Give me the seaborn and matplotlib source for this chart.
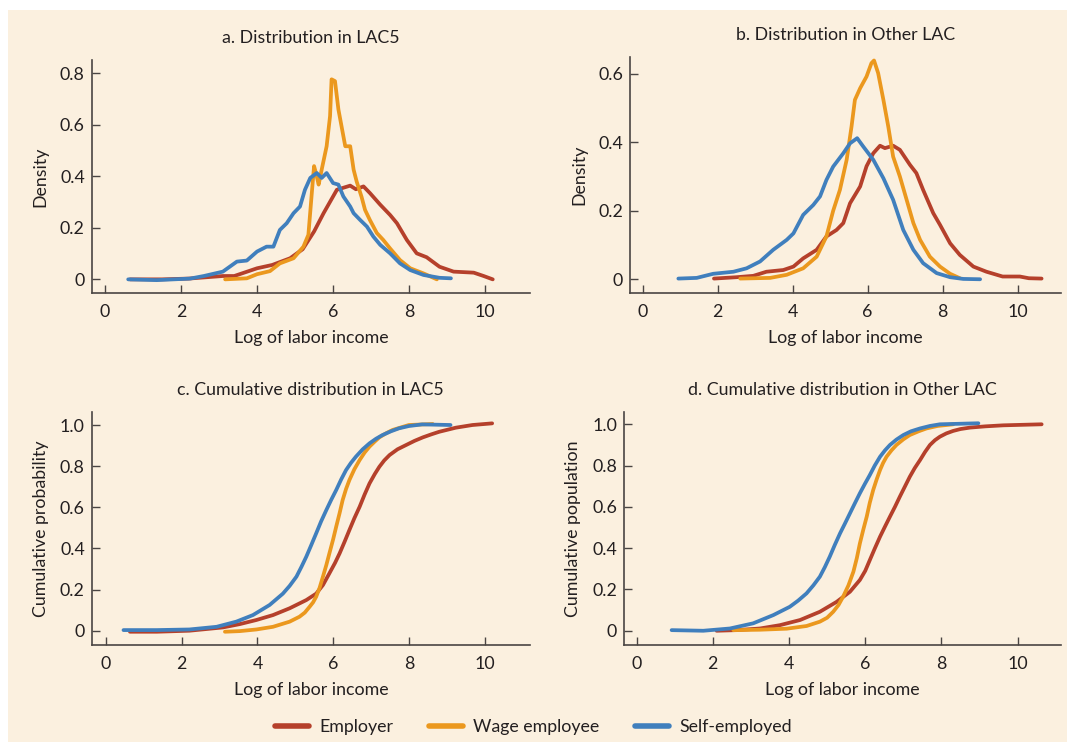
import numpy as np
import pandas as pd
import matplotlib
matplotlib.use("Agg")
import matplotlib.pyplot as plt
import seaborn as sns
from matplotlib.lines import Line2D
from matplotlib.patches import Rectangle

# ---------------- data ----------------
series_names = ["Employer", "Wage employee", "Self-employed"]
series_colors = ["#B5402B", "#EB981E", "#407FBD"]

titles = ["a. Distribution in LAC5", "b. Distribution in Other LAC",
          "c. Cumulative distribution in LAC5", "d. Cumulative distribution in Other LAC"]
ylabels = ["Density", "Density", "Cumulative probability", "Cumulative population"]
xlabel = "Log of labor income"
xticks = [0, 2, 4, 6, 8, 10]
yticks_a = [0, 0.2, 0.4, 0.6, 0.8]
yticks_b = [0, 0.2, 0.4, 0.6]
yticks_cd = [0, 0.2, 0.4, 0.6, 0.8, 1.0]
ytick_labels_a = ["0", "0.2", "0.4", "0.6", "0.8"]
ytick_labels_b = ["0", "0.2", "0.4", "0.6"]
ytick_labels_cd = ["0", "0.2", "0.4", "0.6", "0.8", "1.0"]

# Panel a: density, LAC5
a_emp_x = [0.66, 1.5, 2.2, 3.1, 3.4, 3.6, 4.0, 4.4, 4.87, 5.2, 5.5, 5.75, 6.1, 6.45, 6.6, 6.8,
           6.97, 7.24, 7.5, 7.68, 7.94, 8.2, 8.46, 8.8, 9.17, 9.7, 9.96, 10.2]
a_emp_y = [0.0, 0.0, 0.003, 0.013, 0.013, 0.023, 0.043, 0.056, 0.082, 0.117, 0.186, 0.257, 0.348,
           0.364, 0.35, 0.361, 0.335, 0.29, 0.25, 0.218, 0.153, 0.101, 0.086, 0.049, 0.03, 0.026,
           0.013, 0.0]
a_wage_x = [3.16, 3.73, 4.0, 4.34, 4.6, 4.96, 5.22, 5.35, 5.44, 5.5, 5.57, 5.62, 5.7, 5.83, 5.92,
            5.96, 6.05, 6.14, 6.32, 6.45, 6.54, 6.62, 6.75, 6.84, 6.97, 7.15, 7.32, 7.5, 7.76,
            8.03, 8.38, 8.73]
a_wage_y = [0.0, 0.004, 0.02, 0.032, 0.062, 0.082, 0.127, 0.173, 0.335, 0.44, 0.40, 0.368, 0.426,
            0.517, 0.634, 0.777, 0.77, 0.66, 0.517, 0.517, 0.426, 0.38, 0.32, 0.27, 0.23, 0.18,
            0.153, 0.12, 0.075, 0.043, 0.023, 0.0]
a_self_x = [0.61, 1.36, 2.24, 2.6, 3.1, 3.47, 3.73, 4.0, 4.25, 4.43, 4.6, 4.78, 4.96, 5.13, 5.26,
            5.4, 5.57, 5.7, 5.83, 6.0, 6.14, 6.27, 6.45, 6.54, 6.71, 6.89, 7.06, 7.24, 7.5, 7.76,
            8.03, 8.38, 8.8, 9.1]
a_self_y = [0.0, -0.003, 0.003, 0.013, 0.03, 0.069, 0.073, 0.108, 0.127, 0.127, 0.192, 0.218,
            0.257, 0.283, 0.348, 0.394, 0.413, 0.394, 0.413, 0.374, 0.368, 0.322, 0.283, 0.257,
            0.231, 0.205, 0.166, 0.134, 0.101, 0.062, 0.036, 0.017, 0.006, 0.004]

# Panel b: density, Other LAC
b_emp_x = [1.9, 2.5, 2.95, 3.3, 3.75, 4.02, 4.28, 4.64, 4.9, 5.17, 5.35, 5.53, 5.8, 5.97, 6.15,
           6.33, 6.46, 6.68, 6.86, 7.13, 7.3, 7.48, 7.75, 7.93, 8.2, 8.46, 8.82, 9.17, 9.6,
           10.06, 10.3, 10.64]
b_emp_y = [0.002, 0.006, 0.01, 0.022, 0.027, 0.037, 0.061, 0.086, 0.125, 0.144, 0.164, 0.222,
           0.271, 0.33, 0.368, 0.39, 0.383, 0.39, 0.378, 0.334, 0.31, 0.261, 0.193, 0.159, 0.105,
           0.071, 0.037, 0.022, 0.008, 0.008, 0.003, 0.002]
b_wage_x = [2.6, 3.4, 3.84, 4.28, 4.64, 4.9, 5.08, 5.26, 5.44, 5.57, 5.66, 5.8, 5.97, 6.1, 6.17,
            6.28, 6.42, 6.55, 6.68, 6.86, 7.04, 7.22, 7.4, 7.66, 7.93, 8.2, 8.46]
b_wage_y = [0.002, 0.004, 0.013, 0.032, 0.066, 0.125, 0.2, 0.261, 0.349, 0.446, 0.524, 0.558,
            0.592, 0.631, 0.639, 0.602, 0.524, 0.446, 0.358, 0.3, 0.232, 0.164, 0.115, 0.066,
            0.037, 0.016, 0.003]
b_self_x = [0.95, 1.44, 1.88, 2.42, 2.77, 3.13, 3.48, 3.84, 4.02, 4.28, 4.55, 4.73, 4.9, 5.08,
            5.35, 5.53, 5.72, 5.88, 6.15, 6.42, 6.68, 6.95, 7.22, 7.48, 7.84, 8.2, 8.55, 9.0]
b_self_y = [0.002, 0.004, 0.016, 0.022, 0.032, 0.052, 0.086, 0.115, 0.134, 0.188, 0.217, 0.242,
            0.29, 0.329, 0.368, 0.397, 0.412, 0.388, 0.349, 0.295, 0.232, 0.144, 0.086, 0.047,
            0.018, 0.006, 0.001, 0.0]

# Panel c: cumulative, LAC5
c_emp_x = [0.63, 1.34, 2.2, 3.09, 3.53, 3.97, 4.41, 4.85, 5.29, 5.55, 5.73, 5.9, 6.05, 6.17,
           6.3, 6.43, 6.56, 6.7, 6.83, 6.96, 7.1, 7.22, 7.35, 7.49, 7.7, 7.93, 8.15, 8.37,
           8.6, 8.8, 9.24, 9.68, 10.2]
c_emp_y = [-0.005, -0.005, 0.0, 0.016, 0.032, 0.052, 0.076, 0.109, 0.149, 0.18, 0.222, 0.279,
           0.33, 0.376, 0.432, 0.49, 0.547, 0.603, 0.662, 0.716, 0.762, 0.797, 0.828, 0.854,
           0.882, 0.903, 0.923, 0.94, 0.955, 0.967, 0.987, 1.0, 1.008]
c_wage_x = [3.14, 3.53, 3.97, 4.41, 4.85, 5.11, 5.25, 5.38, 5.47, 5.55, 5.64, 5.73, 5.82, 5.9,
            6.0, 6.08, 6.17, 6.25, 6.34, 6.43, 6.56, 6.7, 6.83, 6.96, 7.1, 7.22, 7.4, 7.57,
            8.0, 8.63]
c_wage_y = [-0.005, -0.002, 0.006, 0.019, 0.044, 0.068, 0.088, 0.117, 0.138, 0.165, 0.208,
            0.263, 0.32, 0.376, 0.445, 0.506, 0.572, 0.635, 0.689, 0.733, 0.785, 0.83, 0.866,
            0.895, 0.92, 0.94, 0.96, 0.976, 1.0, 1.005]
c_self_x = [0.46, 1.34, 2.2, 2.92, 3.44, 3.88, 4.32, 4.67, 4.85, 5.03, 5.16, 5.29, 5.42, 5.55,
            5.68, 5.82, 5.95, 6.08, 6.21, 6.34, 6.47, 6.6, 6.78, 6.96, 7.13, 7.3, 7.52, 7.74,
            8.0, 8.35, 9.1]
c_self_y = [0.003, 0.003, 0.006, 0.019, 0.044, 0.076, 0.125, 0.18, 0.218, 0.263, 0.31, 0.36,
            0.416, 0.473, 0.531, 0.587, 0.637, 0.684, 0.735, 0.781, 0.816, 0.846, 0.882, 0.911,
            0.933, 0.951, 0.969, 0.984, 0.995, 1.003, 1.0]

# Panel d: cumulative, Other LAC
d_emp_x = [2.1, 2.62, 3.24, 3.76, 4.29, 4.81, 5.25, 5.6, 5.86, 6.0, 6.12, 6.25, 6.39, 6.52,
           6.65, 6.78, 6.91, 7.04, 7.17, 7.3, 7.44, 7.57, 7.7, 7.83, 7.96, 8.13, 8.31, 8.5,
           8.75, 9.15, 9.62, 10.63]
d_emp_y = [0.0, 0.003, 0.011, 0.027, 0.052, 0.092, 0.14, 0.189, 0.246, 0.29, 0.342, 0.398,
           0.456, 0.505, 0.553, 0.6, 0.65, 0.698, 0.746, 0.788, 0.827, 0.866, 0.9, 0.923, 0.94,
           0.956, 0.968, 0.977, 0.984, 0.99, 0.995, 1.0]
d_wage_x = [2.54, 3.24, 3.94, 4.46, 4.81, 5.0, 5.16, 5.3, 5.42, 5.56, 5.69, 5.78, 5.86, 5.95,
            6.04, 6.12, 6.21, 6.3, 6.39, 6.47, 6.56, 6.69, 6.82, 7.0, 7.17, 7.4, 7.61, 7.9, 8.31]
d_wage_y = [0.003, 0.005, 0.01, 0.023, 0.044, 0.063, 0.092, 0.125, 0.165, 0.22, 0.286, 0.352,
            0.423, 0.49, 0.553, 0.62, 0.682, 0.733, 0.779, 0.813, 0.843, 0.874, 0.9, 0.927,
            0.948, 0.966, 0.98, 0.992, 1.0]
d_self_x = [0.92, 1.75, 2.45, 3.06, 3.59, 4.02, 4.24, 4.46, 4.64, 4.81, 4.94, 5.07, 5.2, 5.34,
            5.47, 5.6, 5.73, 5.86, 5.99, 6.12, 6.25, 6.39, 6.52, 6.65, 6.82, 7.0, 7.2, 7.44,
            7.7, 7.96, 8.97]
d_self_y = [0.003, 0.0, 0.011, 0.036, 0.076, 0.116, 0.146, 0.181, 0.22, 0.262, 0.308, 0.359,
            0.415, 0.472, 0.52, 0.569, 0.618, 0.666, 0.711, 0.754, 0.8, 0.843, 0.874, 0.9,
            0.926, 0.948, 0.966, 0.98, 0.992, 1.0, 1.005]

panels = [
    [(a_emp_x, a_emp_y), (a_wage_x, a_wage_y), (a_self_x, a_self_y)],
    [(b_emp_x, b_emp_y), (b_wage_x, b_wage_y), (b_self_x, b_self_y)],
    [(c_emp_x, c_emp_y), (c_wage_x, c_wage_y), (c_self_x, c_self_y)],
    [(d_emp_x, d_emp_y), (d_wage_x, d_wage_y), (d_self_x, d_self_y)],
]

# ---------------- styling ----------------
BG = "#FBF0DF"
TXT = "#231F20"
SPINE = "#4A4543"

sns.set_theme(style="ticks")
plt.rcParams["font.family"] = ["Lato", "DejaVu Sans"]
plt.rcParams["text.color"] = TXT
plt.rcParams["axes.labelcolor"] = TXT
plt.rcParams["xtick.color"] = SPINE
plt.rcParams["ytick.color"] = SPINE
plt.rcParams["xtick.labelcolor"] = TXT
plt.rcParams["ytick.labelcolor"] = TXT

FS = 12.8

fig = plt.figure(figsize=(10.67, 7.42), dpi=100, facecolor="white")
W, H = 1067.0, 742.0

# beige panel with thin white margin at top/left
fig.patches.append(Rectangle((8 / W, 0), 1 - 8 / W, 1 - 10 / H, transform=fig.transFigure,
                             facecolor=BG, edgecolor="none", zorder=-10))

def ax_at(l, t, r, b):
    return fig.add_axes([l / W, 1 - b / H, (r - l) / W, (b - t) / H])

axes = [
    ax_at(91.7, 60.0, 530.0, 293.0),
    ax_at(630.0, 56.7, 1060.7, 293.3),
    ax_at(91.7, 411.7, 530.0, 645.0),
    ax_at(624.0, 411.7, 1060.7, 645.0),
]
xlims = [(-0.35, 11.18), (-0.34, 11.15), (-0.38, 11.2), (-0.33, 11.13)]
ylims = [(-0.053, 0.852), (-0.041, 0.65), (-0.0695, 1.0647), (-0.069, 1.061)]
yticks_all = [(yticks_a, ytick_labels_a), (yticks_b, ytick_labels_b),
              (yticks_cd, ytick_labels_cd), (yticks_cd, ytick_labels_cd)]

for i, ax in enumerate(axes):
    ax.set_facecolor(BG)
    rows = []
    for name, (xs, ys) in zip(series_names, panels[i]):
        for xv, yv in zip(xs, ys):
            rows.append({"x": xv, "y": yv, "series": name})
    df = pd.DataFrame(rows)
    sns.lineplot(data=df, x="x", y="y", hue="series", hue_order=series_names,
                 palette=series_colors, estimator=None, linewidth=2.7,
                 legend=False, ax=ax, solid_capstyle="round", solid_joinstyle="round")
    ax.set_xlim(*xlims[i])
    ax.set_ylim(*ylims[i])
    ax.set_xticks(xticks)
    ax.set_xticklabels([str(t) for t in xticks], fontsize=FS)
    ax.set_yticks(yticks_all[i][0])
    ax.set_yticklabels(yticks_all[i][1], fontsize=FS)
    ax.tick_params(direction="in", length=6, width=1.0, pad=6)
    ax.tick_params(axis="x", pad=8)
    ax.tick_params(axis="y", pad=5)
    for s in ["top", "right"]:
        ax.spines[s].set_visible(False)
    for s in ["left", "bottom"]:
        ax.spines[s].set_color(SPINE)
        ax.spines[s].set_linewidth(1.2)
    ax.set_xlabel(xlabel, fontsize=FS, labelpad=7)
    ax.set_ylabel(ylabels[i], fontsize=FS, labelpad=8)
    ax.set_title(titles[i], fontsize=FS, pad=12, color=TXT)

handles = [Line2D([0], [0], color=c, lw=4, solid_capstyle="round") for c in series_colors]
fig.legend(handles, series_names, loc="center", bbox_to_anchor=(0.5, 1 - 727 / H),
           ncol=3, frameon=False, fontsize=FS, handlelength=1.9, columnspacing=2.0,
           handletextpad=0.6)

fig.savefig("out.png", dpi=100, facecolor="white")
